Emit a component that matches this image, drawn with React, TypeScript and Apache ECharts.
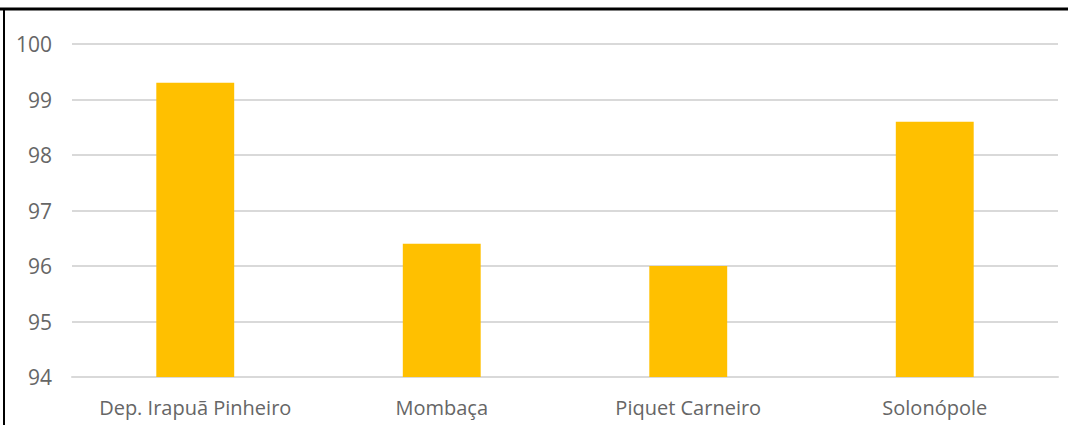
import React, { useEffect, useRef } from "react";
import * as echarts from "echarts";

const categories = ["Dep. Irapuã Pinheiro", "Mombaça", "Piquet Carneiro", "Solonópole"];
const values = [99.3, 96.4, 96.0, 98.6];
const yMin = 94;
const yMax = 100;

export default function App() {
  const ref = useRef<HTMLDivElement>(null);
  useEffect(() => {
    const chart = echarts.init(ref.current!, null, { renderer: "svg" });
    chart.setOption({
      animation: false,
      backgroundColor: "#ffffff",
      textStyle: { fontFamily: "Open Sans" },
      grid: { left: 72, right: 10, top: 44, bottom: 48, containLabel: false, outerBoundsMode: "none" },
      xAxis: {
        type: "category",
        data: categories,
        axisLine: { show: true, lineStyle: { color: "#d9d9d9", width: 2 } },
        axisTick: { show: false },
        axisLabel: { color: "#666666", fontSize: 20, margin: 20, interval: 0, hideOverlap: false, fontFamily: "Open Sans" },
      },
      yAxis: {
        type: "value",
        min: yMin,
        max: yMax,
        interval: 1,
        axisLine: { show: false },
        axisTick: { show: false },
        splitLine: { lineStyle: { color: "#d9d9d9", width: 2 } },
        axisLabel: { color: "#666666", fontSize: 21, margin: 20, fontFamily: "Open Sans" },
      },
      series: [
        {
          type: "bar",
          data: values,
          barWidth: "31.6%",
          itemStyle: { color: "#ffc000" },
        },
      ],
      graphic: [
        { type: "line", shape: { x1: 0, y1: 9, x2: 1068, y2: 9 }, style: { stroke: "#000000", lineWidth: 3 } },
        { type: "line", shape: { x1: 4, y1: 8, x2: 4, y2: 425 }, style: { stroke: "#000000", lineWidth: 2 } },
      ],
    });
    return () => chart.dispose();
  }, []);
  return (
    <div
      ref={ref}
      style={{ position: "fixed", left: 0, top: 0, width: 1068, height: 425, background: "#fff" }}
    />
  );
}
